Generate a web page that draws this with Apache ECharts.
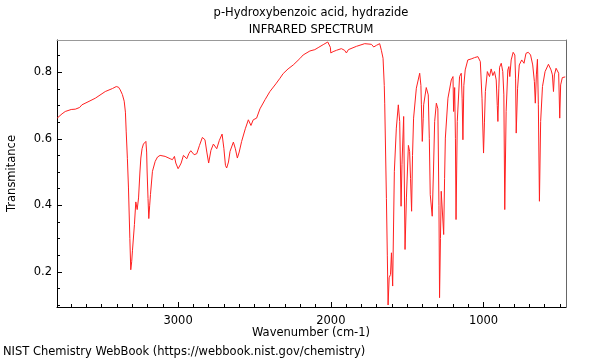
<!DOCTYPE html>
<html>
<head>
<meta charset="utf-8">
<script src="https://cdn.jsdelivr.net/npm/echarts@6/dist/echarts.min.js"></script>
<style>html,body{margin:0;padding:0;background:#fff}#c{width:600px;height:360px}</style>
</head>
<body>
<div id="c"></div>
<script>
var titleLines = ["p-Hydroxybenzoic acid, hydrazide", "INFRARED SPECTRUM"];
var xName = "Wavenumber (cm-1)";
var yName = "Transmitance";
var footer = "NIST Chemistry WebBook (https://webbook.nist.gov/chemistry)";
var xMajorTicks = [1000, 2000, 3000];
var yMajorTicks = [0.2, 0.4, 0.6, 0.8];

var wavenumber = [3792,3760,3739,3700,3673,3662,3645,3630,3590,3542,3477,3430,3405,3390,3379,3365,3353,3345,3340,3332,3325,3316,3310,3304,3299,3286,3277,3268,3259,3250,3244,3236,3227,3211,3206,3203,3197,3192,3186,3181,3168,3150,3135,3118,3085,3052,3037,3024,3015,3000,2990,2980,2965,2955,2943,2930,2917,2905,2895,2878,2860,2841,2830,2824,2812,2800,2785,2769,2747,2730,2712,2700,2690,2682,2670,2660,2638,2625,2612,2600,2584,2560,2540,2523,2508,2486,2464,2430,2399,2360,2333,2312,2280,2246,2203,2181,2137,2105,2083,2050,2020,2007,2003,2000,1985,1963,1931,1910,1898,1885,1876,1832,1778,1734,1719,1701,1680,1669,1658,1650,1647,1636,1630,1625,1618,1609,1603,1595,1584,1571,1558,1549,1540,1534,1523,1514,1505,1492,1484,1478,1471,1465,1458,1440,1418,1410,1407,1401,1395,1392,1375,1362,1355,1349,1336,1328,1320,1309,1299,1292,1288,1282,1277,1270,1261,1255,1250,1233,1211,1200,1196,1189,1184,1180,1176,1172,1157,1146,1140,1135,1129,1120,1103,1081,1059,1037,1021,1010,1000,994,988,975,967,961,950,939,928,917,910,906,900,895,884,874,867,861,852,841,834,828,819,806,795,790,786,777,766,750,735,722,707,692,678,667,661,654,647,641,634,626,614,597,575,558,549,542,536,525,514,508,501,495,484,473,465];
var transmittance = [0.662,0.675,0.682,0.688,0.689,0.687,0.694,0.702,0.711,0.722,0.742,0.751,0.757,0.755,0.747,0.733,0.713,0.68,0.623,0.54,0.452,0.3,0.206,0.23,0.263,0.342,0.41,0.387,0.422,0.5,0.542,0.57,0.584,0.592,0.56,0.503,0.42,0.36,0.4,0.432,0.502,0.532,0.545,0.55,0.547,0.54,0.537,0.547,0.527,0.51,0.518,0.527,0.55,0.547,0.54,0.555,0.564,0.558,0.552,0.555,0.58,0.604,0.6,0.597,0.56,0.527,0.565,0.584,0.57,0.595,0.614,0.57,0.52,0.512,0.53,0.562,0.59,0.57,0.542,0.56,0.592,0.63,0.657,0.64,0.657,0.662,0.69,0.718,0.742,0.765,0.782,0.796,0.81,0.822,0.841,0.852,0.864,0.868,0.874,0.883,0.891,0.896,0.875,0.858,0.862,0.866,0.871,0.866,0.858,0.868,0.871,0.878,0.886,0.884,0.876,0.881,0.886,0.866,0.842,0.76,0.705,0.42,0.25,0.1,0.182,0.192,0.257,0.157,0.502,0.632,0.702,0.652,0.397,0.522,0.667,0.267,0.422,0.58,0.562,0.48,0.382,0.55,0.662,0.752,0.797,0.76,0.702,0.592,0.66,0.702,0.754,0.732,0.6,0.432,0.367,0.5,0.652,0.707,0.69,0.4,0.122,0.3,0.442,0.44,0.312,0.48,0.602,0.722,0.777,0.787,0.682,0.754,0.6,0.357,0.5,0.652,0.787,0.797,0.72,0.597,0.76,0.807,0.837,0.84,0.844,0.847,0.832,0.722,0.557,0.65,0.742,0.802,0.807,0.787,0.81,0.79,0.802,0.777,0.7,0.652,0.75,0.815,0.827,0.802,0.732,0.387,0.682,0.807,0.817,0.787,0.837,0.86,0.852,0.78,0.617,0.752,0.822,0.837,0.827,0.857,0.86,0.852,0.822,0.772,0.707,0.792,0.839,0.702,0.412,0.652,0.757,0.802,0.824,0.807,0.792,0.742,0.792,0.812,0.81,0.797,0.662,0.762,0.784,0.786,0.786];

var X_MIN = 460, X_MAX = 3793, Y_MIN = 0.094, Y_MAX = 0.897;
var xMinor = [];
for (var v = 500; v < X_MAX; v += 100) { if (v % 1000 !== 0) xMinor.push(v); }
var yMinor = [];
for (var k = 2; k <= 17; k++) { var t = Math.round(k * 5) / 100; if (yMajorTicks.indexOf(t) < 0) yMinor.push(t); }

var data = wavenumber.map(function (w, i) { return [w, transmittance[i]]; });
var FONT = "DejaVu Sans";
var FS = 11.5;
var chart = echarts.init(document.getElementById('c'), null, { renderer: 'canvas' });
chart.setOption({
  animation: false,
  backgroundColor: '#fff',
  grid: { left: 57, right: 34, top: 40, bottom: 53, containLabel: false, outerBoundsMode: 'none' },
  graphic: [
    { type: 'text', style: { text: titleLines[0], font: FS + 'px ' + FONT, fill: '#000', align: 'center', verticalAlign: 'middle' }, x: 311, y: 13 },
    { type: 'text', style: { text: titleLines[1], font: FS + 'px ' + FONT, fill: '#000', align: 'center', verticalAlign: 'middle' }, x: 311, y: 30 },
    { type: 'text', style: { text: xName, font: FS + 'px ' + FONT, fill: '#000', align: 'center', verticalAlign: 'middle' }, x: 311, y: 333 },
    { type: 'text', style: { text: footer, font: FS + 'px ' + FONT, fill: '#000', align: 'left', verticalAlign: 'middle' }, x: 3, y: 352 }
  ],
  xAxis: [
    { type: 'value', min: X_MIN, max: X_MAX, inverse: true, position: 'bottom',
      axisLine: { show: true, lineStyle: { color: '#000', width: 1 } },
      axisTick: { show: true, inside: true, length: 5, customValues: xMajorTicks, lineStyle: { color: '#000' } },
      axisLabel: { show: true, customValues: xMajorTicks, margin: 8, fontFamily: FONT, fontSize: FS, color: '#000', formatter: function (v) { return String(v); } },
      splitLine: { show: false } },
    { type: 'value', min: X_MIN, max: X_MAX, inverse: true, position: 'bottom',
      axisLine: { show: false },
      axisTick: { show: true, inside: true, length: 3, customValues: xMinor, lineStyle: { color: '#000' } },
      axisLabel: { show: false }, splitLine: { show: false } },
    { type: 'value', min: X_MIN, max: X_MAX, inverse: true, position: 'top',
      axisLine: { show: true, lineStyle: { color: '#999', width: 1 } },
      axisTick: { show: false }, axisLabel: { show: false }, splitLine: { show: false } }
  ],
  yAxis: [
    { type: 'value', min: Y_MIN, max: Y_MAX, position: 'left',
      name: yName, nameLocation: 'middle', nameGap: 39, nameRotate: 90,
      nameTextStyle: { fontFamily: FONT, fontSize: FS, color: '#000' },
      axisLine: { show: true, lineStyle: { color: '#000', width: 1 } },
      axisTick: { show: true, inside: true, length: 5, customValues: yMajorTicks, lineStyle: { color: '#000' } },
      axisLabel: { show: true, customValues: yMajorTicks, margin: 5, fontFamily: FONT, fontSize: FS, color: '#000', formatter: function (v) { return v.toFixed(1); } },
      splitLine: { show: false } },
    { type: 'value', min: Y_MIN, max: Y_MAX, position: 'left',
      axisLine: { show: false },
      axisTick: { show: true, inside: true, length: 3, customValues: yMinor, lineStyle: { color: '#000' } },
      axisLabel: { show: false }, splitLine: { show: false } },
    { type: 'value', min: Y_MIN, max: Y_MAX, position: 'right',
      axisLine: { show: true, lineStyle: { color: '#666', width: 1 } },
      axisTick: { show: false }, axisLabel: { show: false }, splitLine: { show: false } }
  ],
  series: [{
    type: 'line', xAxisIndex: 0, yAxisIndex: 0, data: data,
    showSymbol: false, symbol: 'none', smooth: false,
    lineStyle: { color: '#ff2020', width: 1 }, silent: true, clip: true
  }]
});
</script>
</body>
</html>
